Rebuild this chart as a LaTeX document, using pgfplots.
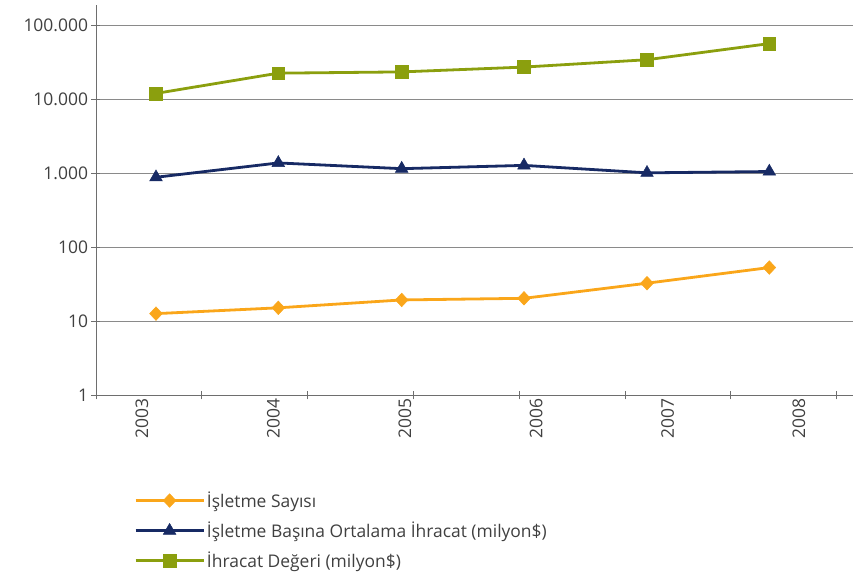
\documentclass[border=0pt]{standalone}
\usepackage{pgfplots}
\pgfplotsset{compat=1.18}
\usepackage{fontspec}
\setmainfont{Open Sans}
\definecolor{cOr}{HTML}{FAA61A}
\definecolor{cNv}{HTML}{172A64}
\definecolor{cGr}{HTML}{8B9F0E}
\definecolor{cAx}{HTML}{6E6E6E}
\definecolor{cGd}{HTML}{8A8A8A}
\definecolor{cTx}{HTML}{404040}
\begin{document}
\begin{tikzpicture}
\begin{axis}[name=ax, scale only axis, width=757bp, height=390bp,
  xmin=96, xmax=853, ymode=log, ymin=1, ymax=188000,
  axis x line=bottom, axis y line=left,
  axis line style={-, cAx, line width=0.9bp},
  xtick={96,201.8,307.6,413.4,519.2,625,730.8,836.6}, xticklabels={},
  extra x ticks={142,273.4,404.8,536.2,667.6,799},
  extra x tick labels={2003,2004,2005,2006,2007,2008},
  extra x tick style={major tick length=0pt, grid=none,
    tick label style={rotate=90, anchor=east}},
  ytick={1,10,100,1000,10000,100000},
  yticklabels={1,10,100,1.000,10.000,100.000},
  yminorticks=false,
  ymajorgrids, major grid style={cGd, line width=0.9bp},
  tick align=center, major tick length=9bp,
  tick style={cAx, line width=0.9bp},
  /pgf/number format/assume math mode=true,
  tick label style={font=\fontsize{17.5}{20}\selectfont, text=cTx},
  legend style={at={(axis description cs:0.0502,-0.243)}, anchor=north west,
    draw=none, fill=none, font=\fontsize{17.5}{20}\selectfont, text=cTx,
    row sep=9bp, inner sep=0pt},
  legend cell align=left,
  legend image code/.code={\draw[mark repeat=2, mark phase=2, #1]
    plot coordinates {(0bp,0bp)(34bp,0bp)(68bp,0bp)};},
]
\addplot[cOr, line width=2.8bp, mark=diamond*, mark size=6.8bp,
  mark options={solid, fill=cOr, xscale=1.25, line width=0.5bp}]
  coordinates {(156,12.6)(278.3,15.1)(401.7,19.3)(524,20.3)(647,32.5)(769.3,52.9)};
\addlegendentry{İşletme Sayısı}
\addplot[cNv, line width=2.8bp, mark=triangle*, mark size=7.3bp,
  mark options={solid, fill=cNv, line width=0.5bp}]
  coordinates {(156,880)(278.3,1375)(401.7,1150)(524,1274)(647,1010)(769.3,1052)};
\addlegendentry{İşletme Başına Ortalama İhracat (milyon\$)}
\addplot[cGr, line width=2.8bp, mark=square*, mark size=6.4bp,
  mark options={solid, fill=cGr, line width=0.5bp}]
  coordinates {(156,11980)(278.3,22500)(401.7,23400)(524,27200)(647,34200)(769.3,56500)};
\addlegendentry{İhracat Değeri (milyon\$)}
\end{axis}
\pgfresetboundingbox
\path ([xshift=-96bp,yshift=-177bp]ax.south west) rectangle ([xshift=761bp,yshift=395bp]ax.south west);
\end{tikzpicture}
\end{document}
